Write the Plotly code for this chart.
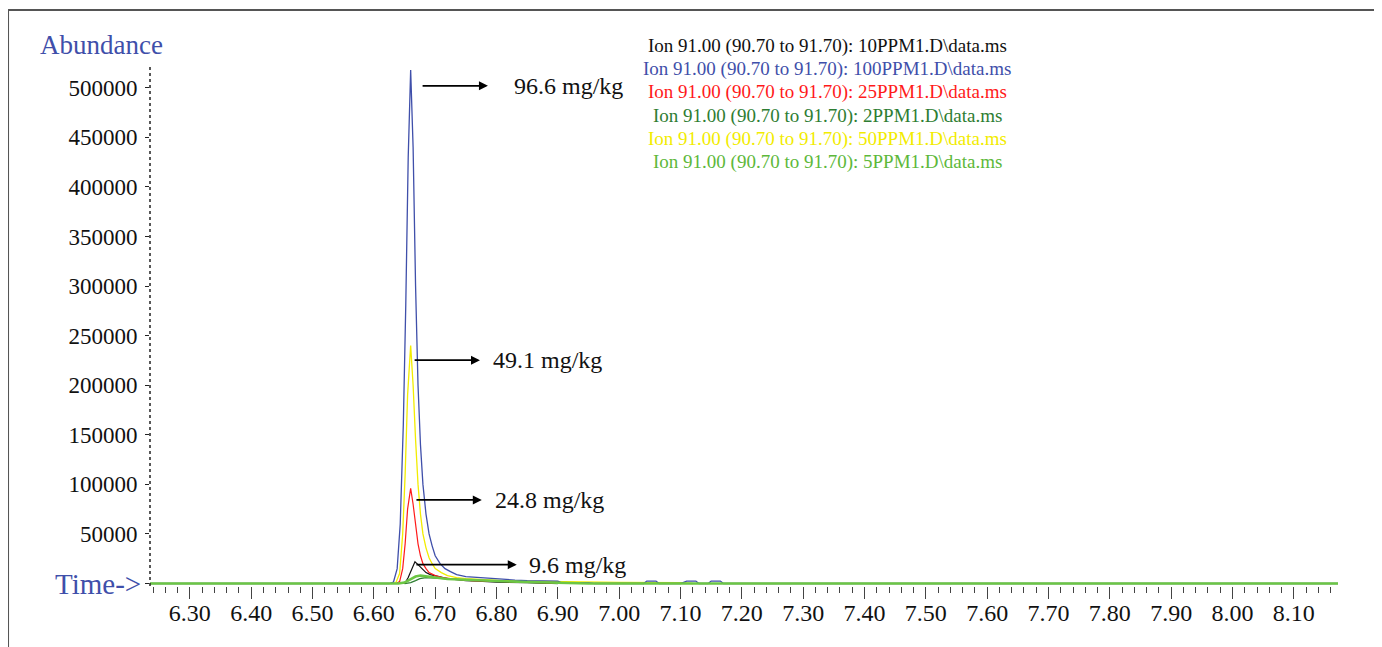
import plotly.graph_objects as go

# ---------------- data ----------------
t_100 = [6.235, 6.625, 6.632, 6.638, 6.643, 6.648, 6.652, 6.656, 6.660, 6.664, 6.668, 6.672, 6.676,
         6.680, 6.685, 6.690, 6.695, 6.700, 6.708, 6.716, 6.725, 6.735, 6.750, 6.770, 6.790, 6.810,
         6.830, 6.850, 6.880, 6.900, 6.905, 6.950, 6.960, 7.040, 7.045, 7.060, 7.065, 7.100, 7.110,
         7.125, 7.130, 7.145, 7.150, 7.165, 7.170, 8.172]
a_100 = [0, 0, 1500, 15000, 60000, 160000, 280000, 430000, 518000, 440000, 300000, 200000, 140000,
         100000, 70000, 50000, 38000, 28000, 20000, 15000, 12000, 9000, 7000, 6000, 5000, 4500,
         3500, 3000, 2500, 2500, 1000, 1000, 0, 0, 2500, 2500, 0, 0, 2500,
         2500, 0, 0, 2500, 2500, 0, 0]

t_50 = [6.628, 6.636, 6.642, 6.647, 6.651, 6.655, 6.660, 6.664, 6.668, 6.672, 6.676, 6.680, 6.685,
        6.690, 6.695, 6.700, 6.710, 6.720, 6.735, 6.750, 6.780, 6.810, 6.850, 6.900, 6.950, 7.000,
        7.100, 7.120]
a_50 = [0, 1000, 10000, 50000, 110000, 190000, 240000, 200000, 145000, 100000, 70000, 50000, 36000,
        26000, 20000, 15000, 11000, 8000, 6000, 5000, 4000, 3000, 2500, 2000, 1500, 1200,
        800, 0]

t_25 = [6.636, 6.642, 6.647, 6.651, 6.655, 6.660, 6.664, 6.668, 6.672, 6.676, 6.680, 6.685, 6.690,
        6.700, 6.712, 6.725, 6.740, 6.760, 6.790, 6.820, 6.850, 6.900, 6.950]
a_25 = [0, 2000, 15000, 40000, 75000, 96000, 80000, 58000, 40000, 28000, 20000, 15000, 11000,
        8000, 6000, 5000, 4000, 3000, 2500, 1800, 1000, 500, 0]

t_10 = [6.645, 6.651, 6.656, 6.660, 6.664, 6.667, 6.672, 6.678, 6.685, 6.692, 6.700, 6.710, 6.720,
        6.735, 6.750, 6.770, 6.800, 6.850, 6.900]
a_10 = [0, 500, 6000, 12000, 18000, 22000, 19000, 15000, 11000, 9000, 8000, 7000, 5000,
        4000, 3000, 2500, 1500, 800, 0]

t_2 = [6.650, 6.660, 6.668, 6.675, 6.685, 6.700, 6.720, 6.750, 6.780, 6.820, 6.850, 6.900]
a_2 = [0, 1000, 3000, 5000, 6000, 5500, 4500, 3500, 3000, 2000, 1000, 0]

t_5 = [6.235, 6.640, 6.650, 6.660, 6.668, 6.676, 6.685, 6.700, 6.720, 6.750, 6.800, 6.850, 6.900,
       6.950, 8.172]
a_5 = [0, 0, 1000, 4000, 7000, 8000, 7500, 6000, 4500, 3500, 2500, 1500, 800, 0, 0]

legend_labels = [
    "Ion 91.00 (90.70 to 91.70): 10PPM1.D\\data.ms",
    "Ion 91.00 (90.70 to 91.70): 100PPM1.D\\data.ms",
    "Ion 91.00 (90.70 to 91.70): 25PPM1.D\\data.ms",
    "Ion 91.00 (90.70 to 91.70): 2PPM1.D\\data.ms",
    "Ion 91.00 (90.70 to 91.70): 50PPM1.D\\data.ms",
    "Ion 91.00 (90.70 to 91.70): 5PPM1.D\\data.ms",
]
legend_colors = ["#111111", "#3F4FAA", "#FF1A1A", "#2E7D32", "#F2EC00", "#5DB83A"]

conc_labels = ["96.6 mg/kg", "49.1 mg/kg", "24.8 mg/kg", "9.6 mg/kg"]
y_ticks = [0, 50000, 100000, 150000, 200000, 250000, 300000, 350000, 400000, 450000, 500000]

# ---------------- figure ----------------
FONT = "Liberation Serif, Times New Roman, serif"
BLUE = "#3F4FAA"

fig = go.Figure()
series = [
    (t_2, a_2, legend_colors[3], 1.3),
    (t_10, a_10, legend_colors[0], 1.2),
    (t_25, a_25, legend_colors[2], 1.2),
    (t_50, a_50, legend_colors[4], 1.3),
    (t_100, a_100, legend_colors[1], 1.3),
]
for tx, ay, col, w in series:
    fig.add_trace(go.Scatter(x=tx, y=ay, mode="lines", line=dict(color=col, width=w),
                             showlegend=False, hoverinfo="skip"))
# 5 ppm trace incl. the long baseline, drawn thicker
fig.add_trace(go.Scatter(x=t_5, y=a_5, mode="lines", line=dict(color="#6CC644", width=2.6),
                         showlegend=False, hoverinfo="skip"))

annotations = []
# legend text block
for i, (lab, col) in enumerate(zip(legend_labels, legend_colors)):
    annotations.append(dict(xref="paper", yref="paper", x=0.570, y=1.0400 - i * 0.0445,
                            text=lab, showarrow=False, xanchor="center", yanchor="middle",
                            font=dict(family=FONT, size=19, color=col)))
# arrows + concentration labels
arrow_specs = [  # (tail x, head x, y, text x)
    (6.677, 6.786, 502000, 6.825),
    (6.664, 6.773, 225300, 6.791),
    (6.667, 6.776, 84300, 6.794),
    (6.667, 6.833, 19000, 6.850),
]
for (x0, x1, yy, tx), lab in zip(arrow_specs, conc_labels):
    annotations.append(dict(x=x1, y=yy, ax=x0, ay=yy, xref="x", yref="y", axref="x", ayref="y",
                            showarrow=True, arrowhead=2, arrowsize=1, arrowwidth=1.8,
                            arrowcolor="#000000", text=""))
    annotations.append(dict(x=tx, y=yy, xref="x", yref="y", text=lab, showarrow=False,
                            xanchor="left", yanchor="middle",
                            font=dict(family=FONT, size=24, color="#111111")))
annotations.append(dict(xref="paper", yref="paper", x=-0.041, y=1.0426, text="Abundance",
                        showarrow=False, xanchor="center", yanchor="middle",
                        font=dict(family=FONT, size=27, color=BLUE)))
annotations.append(dict(xref="paper", yref="y", x=-0.0055, y=0, text="Time->",
                        showarrow=False, xanchor="right", yanchor="middle",
                        font=dict(family=FONT, size=29, color=BLUE)))

tick_text = [""] + [str(v) for v in y_ticks[1:]]

# the page body adds an 8px offset, so the figure is 8px smaller and margins shifted
fig.update_layout(
    width=1374, height=639,
    margin=dict(l=142, r=44, t=59, b=61),
    paper_bgcolor="white", plot_bgcolor="white",
    font=dict(family=FONT, color="#111111"),
    annotations=annotations,
    xaxis=dict(range=[6.235, 8.172], tick0=6.3, dtick=0.1, tickformat=".2f",
               ticks="outside", ticklen=12, tickwidth=1.3, tickcolor="#444444",
               ticklabelstandoff=-7,
               minor=dict(dtick=0.02, tick0=6.3, ticks="outside", ticklen=6, tickwidth=1.2,
                          tickcolor="#444444", showgrid=False),
               showgrid=False, zeroline=False, showline=False,
               tickfont=dict(family=FONT, size=24, color="#111111")),
    yaxis=dict(range=[-2500, 521000], tickvals=y_ticks, ticktext=tick_text,
               ticks="outside", ticklen=4, tickwidth=1.3, tickcolor="#222222",
               ticklabelstandoff=3,
               showgrid=False, zeroline=False, showline=False,
               tickfont=dict(family=FONT, size=23, color="#111111")),
    shapes=[
        dict(type="line", xref="paper", yref="paper", x0=0, x1=0, y0=0, y1=1,
             line=dict(color="#222222", width=1.5, dash="dot")),
        dict(type="line", xref="paper", yref="paper", x0=-0.1195, x1=1.04, y0=1.110, y1=1.110,
             line=dict(color="#555555", width=2)),
        dict(type="line", xref="paper", yref="paper", x0=-0.1195, x1=-0.1195, y0=-0.2, y1=1.110,
             line=dict(color="#555555", width=2)),
    ],
)

fig.write_html("out.html")
